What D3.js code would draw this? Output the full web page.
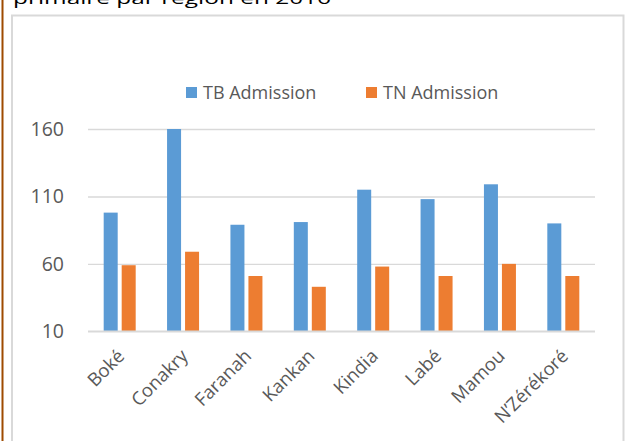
<!DOCTYPE html>
<html><head><meta charset="utf-8">
<script src="https://cdn.jsdelivr.net/npm/d3@7/dist/d3.min.js"></script>
<style>html,body{margin:0;padding:0;background:#fff;overflow:hidden}</style>
</head><body>
<svg id="c" width="636" height="441"></svg>
<script>
const categories = ["Boké","Conakry","Faranah","Kankan","Kindia","Labé","Mamou","N’Zérékoré"];
const seriesNames = ["TB Admission","TN Admission"];
const tbAdmission = [98,160,89,91,115,108,119,90];
const tnAdmission = [59,69,51,43,58,51,60,51];
const yTicks = [10,60,110,160];
const colors = ["#5b9bd5","#ed7d31"];
const headerText = "primaire par région en 2016";

const svg = d3.select("#c");
const font = "'Open Sans', sans-serif";

// page decoration
svg.append("rect").attr("x",0).attr("y",0).attr("width",636).attr("height",441).attr("fill","#fff");
svg.append("line").attr("x1",2.5).attr("x2",2.5).attr("y1",0).attr("y2",441).attr("stroke","#9e4b00").attr("stroke-width",2);
svg.append("text").attr("x",13).attr("y",3.5).attr("font-family",font).attr("font-size",17)
  .attr("fill","#000").attr("textLength",318).attr("lengthAdjust","spacingAndGlyphs").text(headerText);
svg.append("rect").attr("x",12).attr("y",15.5).attr("width",611.5).attr("height",460)
  .attr("fill","#fff").attr("stroke","#d9d9d9").attr("stroke-width",2);

const x0 = d3.scaleBand().domain(categories).range([88,595]).padding(0);
const x1 = d3.scaleBand().domain(seriesNames)
  .range([x0.bandwidth()/2-16, x0.bandwidth()/2+16]).paddingInner(0.222).paddingOuter(0);
const y = d3.scaleLinear().domain([10,160]).range([331.3,129]);

// gridlines
const yAxis = d3.axisLeft(y).tickValues(yTicks).tickSize(-(595-88)).tickPadding(24);
const gy = svg.append("g").attr("transform","translate(88,0)").call(yAxis);
gy.select(".domain").remove();
gy.selectAll(".tick line").attr("stroke","#d9d9d9").attr("stroke-width",1.4);
gy.selectAll(".tick text").attr("font-family",font).attr("font-size",19.5).attr("fill","#595959");

// bars
const data = categories.map((c,i)=>({cat:c, vals:[tbAdmission[i], tnAdmission[i]]}));
const groups = svg.append("g").selectAll("g").data(data).join("g")
  .attr("transform",d=>`translate(${x0(d.cat)},0)`);
groups.selectAll("rect").data(d=>d.vals.map((v,j)=>({s:seriesNames[j],v,j}))).join("rect")
  .attr("x",d=>x1(d.s)).attr("width",x1.bandwidth())
  .attr("y",d=>y(d.v)).attr("height",d=>y(10)-y(d.v))
  .attr("fill",d=>colors[d.j]);

// baseline gridline above bars
svg.append("line").attr("x1",88).attr("x2",595).attr("y1",y(10)).attr("y2",y(10))
  .attr("stroke","#d9d9d9").attr("stroke-width",1.4);

// x labels
const xAxis = d3.axisBottom(x0).tickSize(0).tickPadding(0);
const gx = svg.append("g").attr("transform",`translate(0,${y(10)})`).call(xAxis);
gx.select(".domain").remove();
gx.selectAll(".tick text")
  .attr("font-family",font).attr("font-size",18.5).attr("fill","#595959")
  .attr("text-anchor","end").attr("dy",0).attr("y",0)
  .attr("transform","translate(6,26) rotate(-45)");

// legend
const legendX = [186,366];
seriesNames.forEach((s,i)=>{
  svg.append("rect").attr("x",legendX[i]).attr("y",87).attr("width",11).attr("height",11).attr("fill",colors[i]);
  svg.append("text").attr("x",legendX[i]+17).attr("y",99).attr("font-family",font).attr("font-size",18)
    .attr("fill","#595959").text(s);
});
</script>
</body></html>
